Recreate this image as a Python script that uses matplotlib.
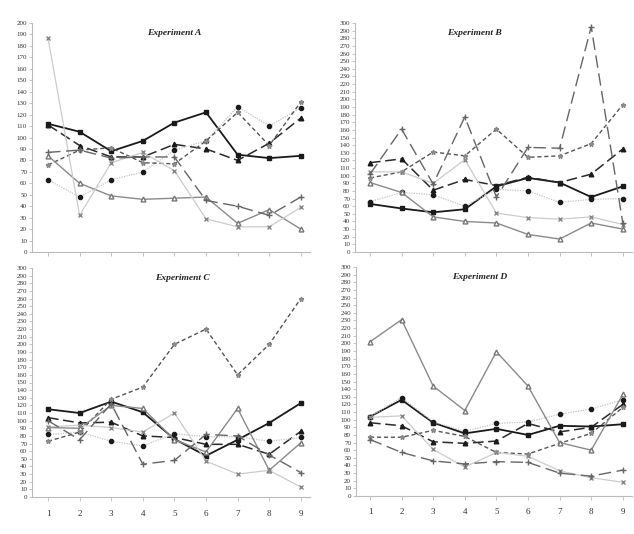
import matplotlib
matplotlib.use("Agg")
import matplotlib.pyplot as plt

plt.rcParams['font.family'] = ['Liberation Serif', 'DejaVu Serif']

x = [1, 2, 3, 4, 5, 6, 7, 8, 9]

# panel A
a_sq   = [112, 105, 88, 97, 113, 122, 85, 82, 84]
a_tri  = [111, 93, 83, 83, 94, 90, 80, 95, 117]
a_circ = [63, 48, 63, 70, 89, 97, 127, 110, 126]
a_star = [76, 89, 91, 78, 77, 97, 122, 93, 131]
a_otri = [84, 60, 49, 46, 47, 48, 25, 37, 20]
a_x    = [187, 32, 78, 87, 71, 29, 22, 22, 39]
a_plus = [87, 89, 82, 83, 83, 45, 40, 32, 48]

# panel B
b_sq   = [63, 57, 52, 56, 86, 97, 91, 72, 86]
b_tri  = [117, 122, 81, 95, 87, 98, 91, 102, 135]
b_circ = [66, 78, 75, 60, 82, 80, 65, 69, 70]
b_star = [97, 105, 131, 126, 161, 124, 126, 142, 193]
b_otri = [91, 78, 46, 40, 38, 23, 17, 38, 30]
b_x    = [105, 105, 90, 121, 51, 45, 43, 46, 36]
b_plus = [102, 161, 89, 177, 72, 137, 136, 295, 38]

# panel C
c_sq   = [115, 110, 125, 111, 76, 54, 75, 97, 123]
c_tri  = [104, 97, 98, 80, 78, 69, 69, 56, 86]
c_circ = [82, 85, 73, 67, 83, 79, 79, 73, 78]
c_star = [73, 85, 128, 144, 200, 220, 160, 200, 260]
c_otri = [91, 90, 120, 116, 75, 59, 116, 35, 71]
c_x    = [92, 94, 91, 85, 110, 47, 30, 35, 13]
c_plus = [100, 75, 122, 43, 48, 82, 80, 55, 32]

# panel D
d_sq   = [104, 126, 96, 82, 88, 80, 92, 91, 94]
d_tri  = [96, 92, 71, 69, 72, 95, 84, 90, 120]
d_circ = [104, 129, 97, 85, 95, 97, 107, 114, 126]
d_star = [77, 77, 86, 78, 57, 55, 69, 82, 116]
d_otri = [202, 231, 144, 112, 189, 144, 70, 60, 133]
d_x    = [103, 105, 61, 38, 57, 52, 33, 24, 18]
d_plus = [74, 57, 46, 42, 45, 44, 30, 26, 34]

titles = ['Experiment A', 'Experiment B', 'Experiment C', 'Experiment D']
panels = [
    [a_sq, a_tri, a_circ, a_star, a_otri, a_x, a_plus],
    [b_sq, b_tri, b_circ, b_star, b_otri, b_x, b_plus],
    [c_sq, c_tri, c_circ, c_star, c_otri, c_x, c_plus],
    [d_sq, d_tri, d_circ, d_star, d_otri, d_x, d_plus],
]

styles = [
    dict(color='#1a1a1a', lw=1.3, ls='-', marker='s', ms=3.5, mfc='#1a1a1a', mec='#1a1a1a'),
    dict(color='#2a2a2a', lw=1.1, ls=(0, (7, 3)), marker='^', ms=3.3, mfc='#1a1a1a', mec='#1a1a1a'),
    dict(color='#c4c4c4', lw=0.9, ls=(0, (1, 1)), marker='o', ms=3, mfc='#1a1a1a', mec='#1a1a1a'),
    dict(color='#555555', lw=1.0, ls=(0, (3, 2)), marker='*', ms=3.5, mfc='#999999', mec='#888888'),
    dict(color='#8a8a8a', lw=1.0, ls='-', marker='^', ms=3.5, mfc='white', mec='#777777'),
    dict(color='#cccccc', lw=0.9, ls='-', marker='x', ms=3, mfc='none', mec='#888888'),
    dict(color='#666666', lw=1.0, ls=(0, (9, 4)), marker='+', ms=4.5, mfc='none', mec='#666666'),
]

W, H = 634, 534
# left, right, y0 (value 0), y_top, ymax, title x frac
boxes = [
    (32, 310, 252, 23, 200, 0.51),
    (355, 632, 252, 23, 300, 0.43),
    (32, 310, 497, 268, 300, 0.54),
    (356, 632, 496, 267, 300, 0.45),
]

fig = plt.figure(figsize=(W / 100, H / 100), dpi=100)

for i in range(4):
    l, r, y0, yt, ymax, tx = boxes[i]
    ax = fig.add_axes([l / W, (H - y0) / H, (r - l) / W, (y0 - yt) / H])
    for s, st in zip(panels[i], styles):
        ax.plot(x, s, **st)
    x1 = 48 if l < 300 else 370
    step = 31.6
    ax.set_xlim(1 - (x1 - l) / step, 1 + (r - x1) / step)
    ax.set_ylim(0, ymax)
    ax.set_yticks(range(0, ymax + 1, 10))
    ax.set_xticks(x)
    for sp in ['top', 'right']:
        ax.spines[sp].set_visible(False)
    for sp in ['left', 'bottom']:
        ax.spines[sp].set_color('#bbbbbb')
        ax.spines[sp].set_linewidth(0.8)
    ax.tick_params(axis='y', labelsize=5, length=2, width=0.6, color='#bbbbbb', pad=1.5, labelcolor='#333333')
    if i < 2:
        ax.tick_params(axis='x', labelbottom=False, length=3, width=0.6, color='#bbbbbb')
    else:
        ax.tick_params(axis='x', labelsize=6.5, length=3, width=0.6, color='#bbbbbb', pad=6, labelcolor='#333333')
    ax.text(tx, 0.975, titles[i], transform=ax.transAxes, ha='center', va='top',
            fontsize=6.8, fontweight='bold', fontstyle='italic', color='#222222')

fig.savefig('out.png', dpi=100)
